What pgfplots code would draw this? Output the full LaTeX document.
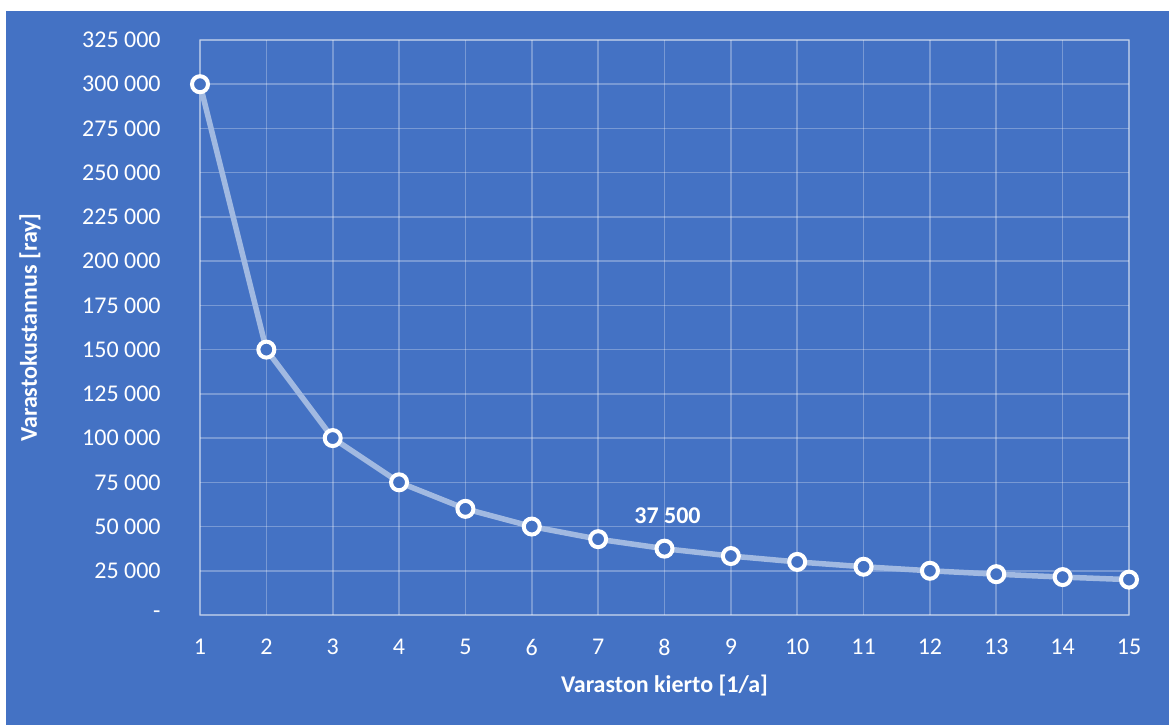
\documentclass[border=0pt]{standalone}
\usepackage{pgfplots}
\pgfplotsset{compat=1.18}
\usepackage{fontspec}
\setmainfont{Carlito}
\definecolor{bgblue}{RGB}{68,114,196}
\begin{document}
\begin{tikzpicture}
% page and chart area (1px = 0.5pt, axis origin at (0,0))
\fill[white] (-100pt,-55pt) rectangle (484.5pt,307.5pt);
\fill[bgblue] (-97pt,-55pt) rectangle (484.5pt,302pt);
\begin{axis}[
  at={(0,0)}, anchor=south west,
  scale only axis,
  width=464.5pt, height=287.5pt,
  xmin=1, xmax=15, ymin=0, ymax=325000,
  xtick={1,...,15},
  ytick={0,25000,...,325000},
  scaled y ticks=false,
  yticklabels={-,25 000,50 000,75 000,100 000,125 000,150 000,175 000,200 000,225 000,250 000,275 000,300 000,325 000},
  major tick length=0pt,
  grid=major,
  grid style={white, opacity=0.28, line width=0.8pt},
  axis line style={white, opacity=0.28, line width=0.8pt},
  /pgf/number format/assume math mode=true,
  tick label style={text=white, font=\fontsize{12}{14}\selectfont},
  xticklabel style={anchor=center, yshift=-16pt},
  yticklabel style={anchor=east, inner sep=0pt, xshift=-19.5pt},
  xlabel={Varaston kierto [1/a]},
  ylabel={Varastokustannus [ray]},
  every axis x label/.style={at={(axis description cs:0.5,0)}, anchor=center,
    yshift=-35.5pt, text=white, font=\fontsize{12}{14}\selectfont\bfseries},
  every axis y label/.style={at={(axis description cs:0,0.5)}, anchor=center,
    rotate=90, yshift=85pt, text=white, font=\fontsize{12}{14}\selectfont\bfseries},
  clip=false,
]
\addplot[white!50!bgblue, line width=2.75pt,
  mark=*, mark size=4pt,
  mark options={draw=white, fill=bgblue, line width=2pt}]
  coordinates {
  (1,300000) (2,150000) (3,100000) (4,75000) (5,60000)
  (6,50000) (7,42857) (8,37500) (9,33333) (10,30000)
  (11,27273) (12,25000) (13,23077) (14,21429) (15,20000)
  };
\node[text=white, font=\fontsize{12}{14}\selectfont\bfseries, yshift=16.5pt, xshift=1.5pt]
  at (axis cs:8,37500) {37 500};
\end{axis}
\end{tikzpicture}
\end{document}
